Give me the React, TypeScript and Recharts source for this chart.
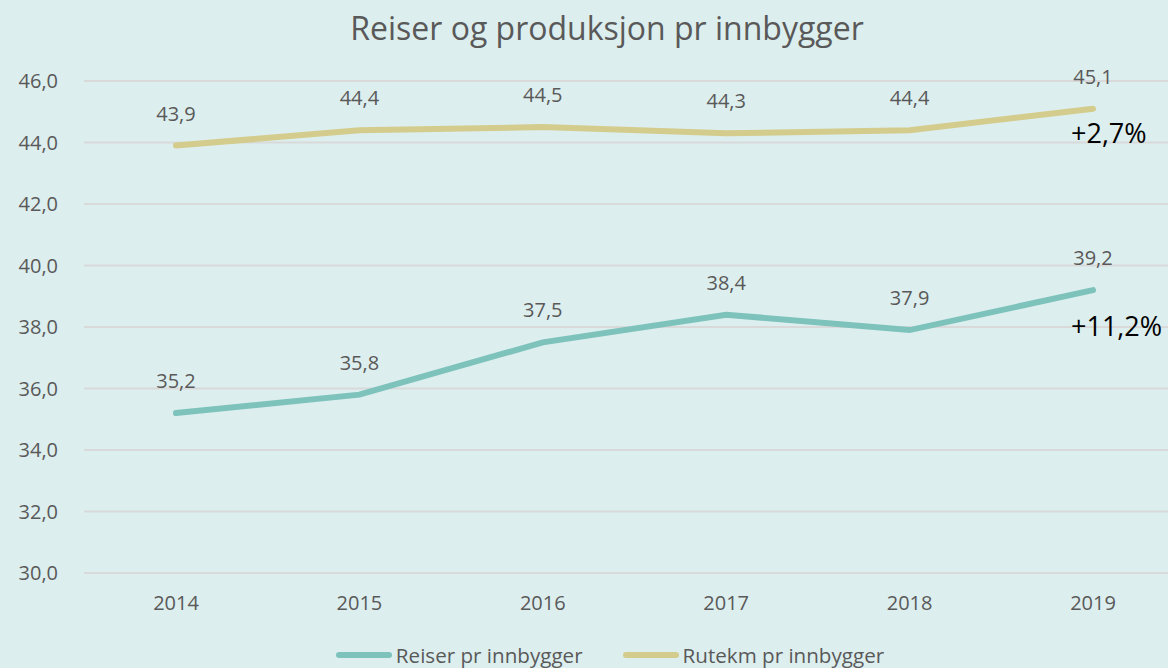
import React from "react";
import { LineChart, Line, XAxis, YAxis, CartesianGrid, Legend } from "recharts";

const years = ["2014", "2015", "2016", "2017", "2018", "2019"];
const reiser = [35.2, 35.8, 37.5, 38.4, 37.9, 39.2];
const rutekm = [43.9, 44.4, 44.5, 44.3, 44.4, 45.1];
const yTicks = [30, 32, 34, 36, 38, 40, 42, 44, 46];
const reiserChange = "+11,2%";
const rutekmChange = "+2,7%";

const data = years.map((y, i) => ({ year: y, reiser: reiser[i], rutekm: rutekm[i] }));

const FONT = "'Open Sans', sans-serif";
const GREY = "#595959";
const TEAL = "#7DC3BC";
const YELLOW = "#D3CC8C";
const BG = "#DDEEEE";

const fmt = (v: number) => v.toFixed(1).replace(".", ",");

const makeLabel = (annotation: string, lastIndex: number, dy: number) => (props: any) => {
  const { x, y, value, index } = props;
  return (
    <g>
      <text x={x} y={y - 25} textAnchor="middle" fill={GREY} fontSize={20} fontFamily={FONT}>
        {fmt(value)}
      </text>
      {index === lastIndex ? (
        <text x={x - 22} y={y + dy} textAnchor="start" fill="#000" fontSize={27} fontFamily={FONT}>
          {annotation}
        </text>
      ) : null}
    </g>
  );
};

export default function App() {
  return (
    <div
      style={{
        position: "fixed",
        top: 0,
        left: 0,
        width: 1168,
        height: 668,
        overflow: "hidden",
        background: BG,
      }}
    >
      <div
        style={{
          position: "absolute",
          top: 7,
          left: 0,
          width: 1214,
          textAlign: "center",
          fontFamily: FONT,
          fontSize: 32,
          color: GREY,
          lineHeight: "42px",
        }}
      >
        Reiser og produksjon pr innbygger
      </div>
      <LineChart
        width={1200}
        height={668}
        data={data}
        margin={{ top: 81, right: 15, left: 14, bottom: 0 }}
      >
        <CartesianGrid vertical={false} stroke="#D9D9D9" strokeWidth={2} />
        <XAxis
          dataKey="year"
          axisLine={false}
          tickLine={false}
          height={70}
          padding={{ left: 92, right: 92 }}
          tick={{ fill: GREY, fontSize: 20, fontFamily: FONT }}
          tickMargin={17}
        />
        <YAxis
          domain={[30, 46]}
          ticks={yTicks}
          interval={0}
          width={70}
          axisLine={false}
          tickLine={false}
          tickFormatter={fmt}
          tick={{ fill: GREY, fontSize: 20, fontFamily: FONT }}
          tickMargin={20}
        />
        <Legend
          verticalAlign="bottom"
          height={25}
          content={() => (
            <div
              style={{
                display: "flex",
                justifyContent: "center",
                gap: 40,
                fontFamily: FONT,
                fontSize: 20.6,
                lineHeight: "24px",
                color: GREY,
                width: 1192,
              }}
            >
              {[
                { name: "Reiser pr innbygger", color: TEAL },
                { name: "Rutekm pr innbygger", color: YELLOW },
              ].map((it) => (
                <div key={it.name} style={{ display: "flex", alignItems: "center" }}>
                  <div style={{ width: 56, height: 6, borderRadius: 3, background: it.color, marginRight: 4 }} />
                  <span>{it.name}</span>
                </div>
              ))}
            </div>
          )}
        />
        <Line
          type="linear"
          dataKey="reiser"
          name="Reiser pr innbygger"
          stroke={TEAL}
          strokeWidth={6}
          strokeLinecap="round"
          dot={false}
          activeDot={false}
          isAnimationActive={false}
          label={makeLabel(reiserChange, years.length - 1, 46)}
        />
        <Line
          type="linear"
          dataKey="rutekm"
          name="Rutekm pr innbygger"
          stroke={YELLOW}
          strokeWidth={6}
          strokeLinecap="round"
          dot={false}
          activeDot={false}
          isAnimationActive={false}
          label={makeLabel(rutekmChange, years.length - 1, 34)}
        />
      </LineChart>
    </div>
  );
}
